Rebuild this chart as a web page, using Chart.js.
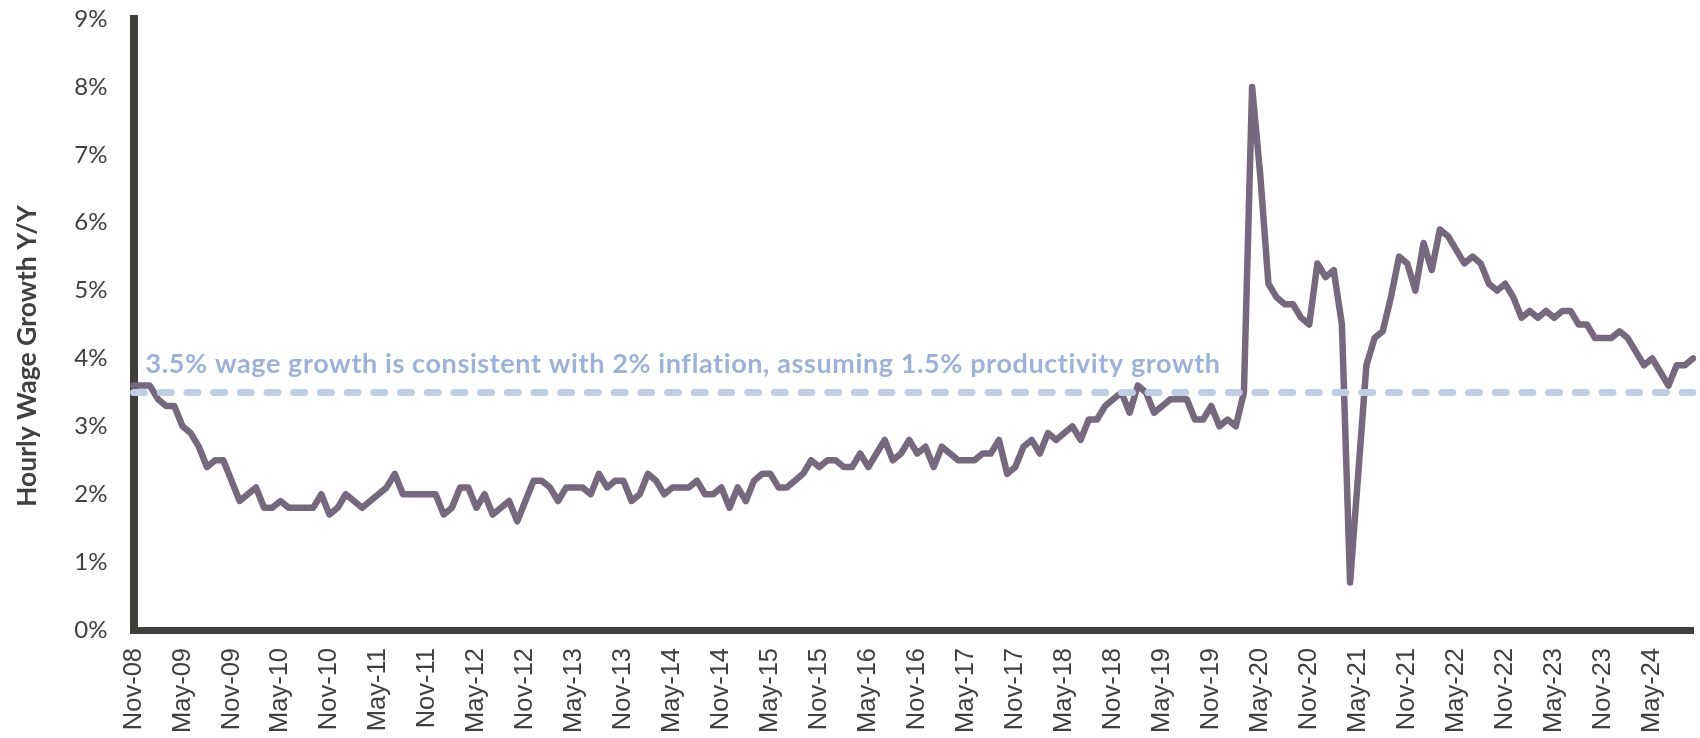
<!DOCTYPE html>
<html>
<head>
<meta charset="utf-8">
<title>Hourly Wage Growth Y/Y</title>
<script src="https://cdn.jsdelivr.net/npm/chart.js"></script>
<style>
  html, body { margin: 0; padding: 0; background: #fff; }
  #wrap { width: 1700px; height: 738px; }
</style>
</head>
<body>
<div id="wrap"><canvas id="wage-chart" width="1700" height="738"></canvas></div>
<script>
// monthly y/y hourly wage growth, Nov-08 .. Oct-24 (one row = Nov..Oct)
var wageGrowth = [
    3.6, 3.6, 3.6, 3.4, 3.3, 3.3, 3.0, 2.9, 2.7, 2.4, 2.5, 2.5,
    2.2, 1.9, 2.0, 2.1, 1.8, 1.8, 1.9, 1.8, 1.8, 1.8, 1.8, 2.0,
    1.7, 1.8, 2.0, 1.9, 1.8, 1.9, 2.0, 2.1, 2.3, 2.0, 2.0, 2.0,
    2.0, 2.0, 1.7, 1.8, 2.1, 2.1, 1.8, 2.0, 1.7, 1.8, 1.9, 1.6,
    1.9, 2.2, 2.2, 2.1, 1.9, 2.1, 2.1, 2.1, 2.0, 2.3, 2.1, 2.2,
    2.2, 1.9, 2.0, 2.3, 2.2, 2.0, 2.1, 2.1, 2.1, 2.2, 2.0, 2.0,
    2.1, 1.8, 2.1, 1.9, 2.2, 2.3, 2.3, 2.1, 2.1, 2.2, 2.3, 2.5,
    2.4, 2.5, 2.5, 2.4, 2.4, 2.6, 2.4, 2.6, 2.8, 2.5, 2.6, 2.8,
    2.6, 2.7, 2.4, 2.7, 2.6, 2.5, 2.5, 2.5, 2.6, 2.6, 2.8, 2.3,
    2.4, 2.7, 2.8, 2.6, 2.9, 2.8, 2.9, 3.0, 2.8, 3.1, 3.1, 3.3,
    3.4, 3.5, 3.2, 3.6, 3.5, 3.2, 3.3, 3.4, 3.4, 3.4, 3.1, 3.1,
    3.3, 3.0, 3.1, 3.0, 3.5, 8.0, 6.7, 5.1, 4.9, 4.8, 4.8, 4.6,
    4.5, 5.4, 5.2, 5.3, 4.5, 0.7, 2.3, 3.9, 4.3, 4.4, 4.9, 5.5,
    5.4, 5.0, 5.7, 5.3, 5.9, 5.8, 5.6, 5.4, 5.5, 5.4, 5.1, 5.0,
    5.1, 4.9, 4.6, 4.7, 4.6, 4.7, 4.6, 4.7, 4.7, 4.5, 4.5, 4.3,
    4.3, 4.3, 4.4, 4.3, 4.1, 3.9, 4.0, 3.8, 3.6, 3.9, 3.9, 4.0
];

var targetWage = 3.5;
var targetNote = '3.5% wage growth is consistent with 2% inflation, assuming 1.5% productivity growth';
var yTitle = 'Hourly Wage Growth Y/Y';
var yMin = 0;
var yMax = 9;
var labelEvery = 6;

var monthNames = ['Jan', 'Feb', 'Mar', 'Apr', 'May', 'Jun', 'Jul', 'Aug', 'Sep', 'Oct', 'Nov', 'Dec'];
var startMonth = 10; // Nov
var startYear = 8;   // 2008

var monthLabels = [];
for (var i = 0; i < wageGrowth.length; i++) {
    var m = (startMonth + i) % 12;
    var y = startYear + Math.floor((startMonth + i) / 12);
    monthLabels.push(monthNames[m] + '-' + (y < 10 ? '0' + y : y));
}

var targetLine = monthLabels.map(function() { return targetWage; });

// y title and the note above the dashed line
var notesPlugin = {
    id: 'notes',
    afterDraw: function(chart) {
        var ctx = chart.ctx;
        var yScale = chart.scales.y;
        var area = chart.chartArea;

        ctx.save();
        ctx.fillStyle = '#9DB2D8';
        ctx.font = 'bold 27px Lato';
        ctx.letterSpacing = '0.6px';
        ctx.textAlign = 'left';
        ctx.textBaseline = 'alphabetic';
        ctx.fillText(targetNote, area.left + 12, yScale.getPixelForValue(targetWage) - 19);
        ctx.restore();

        ctx.save();
        ctx.translate(27, 356);
        ctx.rotate(-Math.PI / 2);
        ctx.fillStyle = '#404040';
        ctx.font = 'bold 26.5px Lato';
        ctx.textAlign = 'center';
        ctx.textBaseline = 'middle';
        ctx.fillText(yTitle, 0, 0);
        ctx.restore();
    }
};

var ctx = document.getElementById('wage-chart').getContext('2d');

var wageChart = new Chart(ctx, {
    type: 'line',
    data: {
        labels: monthLabels,
        datasets: [{
            label: 'Target',
            data: targetLine,
            borderColor: '#C0CDE3',
            borderWidth: 7,
            borderDash: [11, 15.7],
            borderCapStyle: 'round',
            pointRadius: 0,
            order: 0
        }, {
            label: 'Hourly wage growth',
            data: wageGrowth,
            borderColor: '#75687F',
            borderWidth: 6.5,
            borderJoinStyle: 'round',
            borderCapStyle: 'round',
            pointRadius: 0,
            tension: 0,
            order: 1
        }]
    },
    options: {
        responsive: false,
        devicePixelRatio: 1,
        animation: false,
        layout: {
            padding: { top: 19, right: 7, bottom: 0, left: 0 }
        },
        plugins: {
            legend: { display: false },
            tooltip: { enabled: false }
        },
        scales: {
            x: {
                offset: false,
                grid: { display: false, drawTicks: false },
                border: { display: true, color: '#3F3E3A', width: 7 },
                ticks: {
                    autoSkip: false,
                    minRotation: 90,
                    maxRotation: 90,
                    padding: 18,
                    color: '#404040',
                    font: { family: 'Liberation Sans', size: 25.5 },
                    callback: function(value, index) {
                        return index % labelEvery === 0 ? monthLabels[index] : '';
                    }
                },
                afterFit: function(scale) {
                    scale.height = 108;
                    scale.paddingLeft = 0;
                    scale.paddingRight = 0;
                }
            },
            y: {
                min: yMin,
                max: yMax,
                grid: { display: false, drawTicks: false },
                border: { display: true, color: '#3F3E3A', width: 8 },
                ticks: {
                    stepSize: 1,
                    padding: 26,
                    color: '#404040',
                    font: { family: 'Lato', size: 24 },
                    callback: function(value) { return value + '%'; }
                },
                afterFit: function(scale) {
                    scale.width = 133.5;
                    scale.paddingTop = 0;
                    scale.paddingBottom = 0;
                }
            }
        }
    },
    plugins: [notesPlugin]
});
</script>
</body>
</html>
